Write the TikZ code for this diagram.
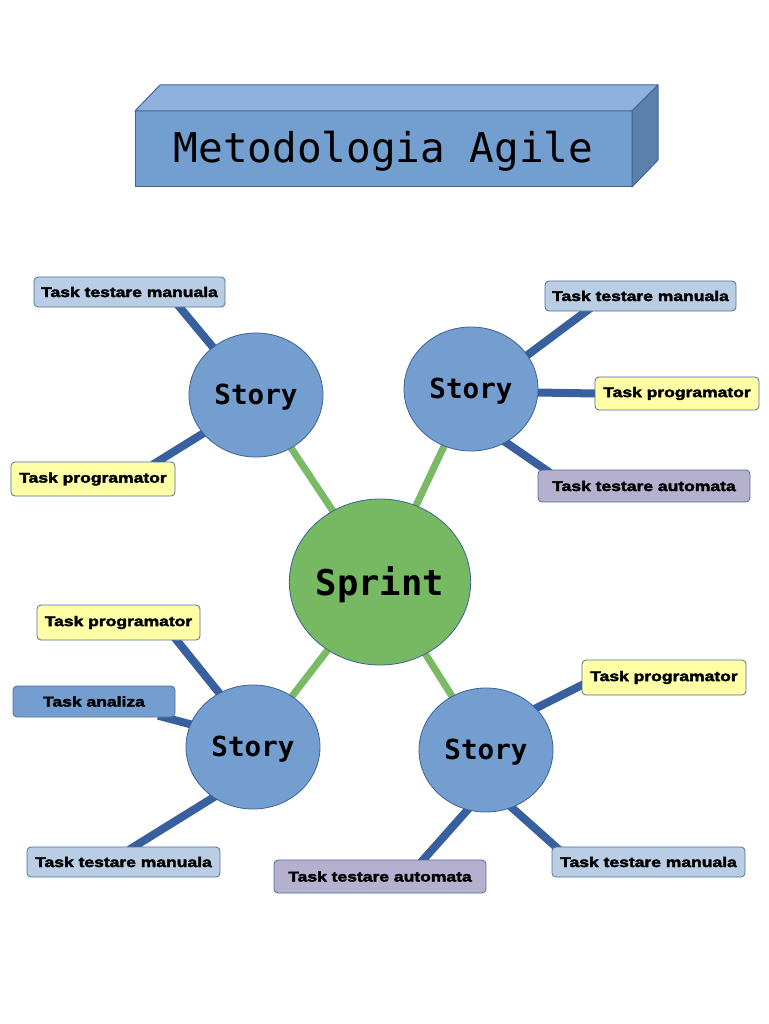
\documentclass[tikz,border=0pt]{standalone}
\usepackage{fontspec}
\setmonofont{DejaVu Sans Mono}
\newfontfamily\taskfont[FakeStretch=1.25,FakeBold=2.6]{Liberation Sans Bold}
\usetikzlibrary{shapes.geometric,backgrounds,calc}
\definecolor{storyblue}{RGB}{115,158,207}
\definecolor{borderblue}{RGB}{62,98,150}
\definecolor{sprintgreen}{RGB}{119,185,99}
\definecolor{linkgreen}{RGB}{122,186,100}
\definecolor{linkblue}{RGB}{56,96,158}
\definecolor{boxlight}{RGB}{185,205,229}
\definecolor{boxyellow}{RGB}{255,255,166}
\definecolor{boxlav}{RGB}{180,176,206}
\definecolor{boxborder}{RGB}{80,110,160}
\definecolor{titlefront}{RGB}{114,159,207}
\definecolor{titletop}{RGB}{142,178,221}
\definecolor{titleside}{RGB}{91,128,172}
\definecolor{titleborder}{RGB}{65,100,155}
\newcommand{\lowertext}[1]{\raisebox{-2.5pt}[\height][\depth]{#1}}
\begin{document}
\begin{tikzpicture}[x=1pt,y=-1pt,
  story/.style={ellipse, draw=borderblue, line width=0.8pt, fill=storyblue,
    minimum width=134pt, minimum height=124pt, inner sep=0pt, outer sep=0pt,
    font=\ttfamily\bfseries\fontsize{27.6}{28}\selectfont},
  sprint/.style={ellipse, draw=borderblue, line width=0.8pt, fill=sprintgreen,
    minimum width=177pt, minimum height=166pt, inner sep=0pt, outer sep=0pt,
    font=\ttfamily\bfseries\fontsize{35.5}{36}\selectfont},
  taskbox/.style n args={3}{rectangle, rounded corners=4pt, draw=boxborder,
    line width=0.8pt, fill=#3, minimum width=#1pt, minimum height=#2pt,
    inner sep=0pt, outer sep=0pt, font=\taskfont\fontsize{14}{14}\selectfont},
  blueline/.style={draw=linkblue, line width=8pt, shorten >=-5pt, shorten <=-5pt},
  greenline/.style={draw=linkgreen, line width=7pt},
  titlebox/.style={rectangle, fill=titlefront, draw=titleborder, line width=1pt,
    minimum width=497pt, minimum height=76pt, inner sep=0pt, outer sep=0pt,
    font=\ttfamily\fontsize{41}{41}\selectfont}
]
\begin{pgfonlayer}{background}
\path[use as bounding box, fill=white] (0,0) rectangle (768,1024);
\end{pgfonlayer}

% title
\node[titlebox] (title) at (383.5,149) {\lowertext{Metodologia Agile}};
\filldraw[fill=titletop, draw=titleborder, line width=1pt, line join=round]
  (title.north west) -- ++(25,-26) -- ++(498,0) -- (title.north east) -- cycle;
\filldraw[fill=titleside, draw=titleborder, line width=1pt, line join=round]
  (title.north east) -- ++(26,-26) -- ++(0,75) -- (title.south east) -- cycle;

% central and stories
\node[sprint] (sprint) at (380,582) {\lowertext{Sprint}};
\node[story] (sTL) at (256,395) {\lowertext{Story}};
\node[story] (sTR) at (471,389) {\lowertext{Story}};
\node[story] (sBL) at (253,747) {\lowertext{Story}};
\node[story] (sBR) at (486,750) {\lowertext{Story}};

% tasks
\node[taskbox={191}{30}{boxlight}] (tl1) at (129.5,292) {Task testare manuala};
\node[taskbox={164}{34}{boxyellow}] (tl2) at (93,479) {Task programator};
\node[taskbox={191}{30}{boxlight}] (tr1) at (640.5,296) {Task testare manuala};
\node[taskbox={164}{33}{boxyellow}] (tr2) at (677,393.5) {Task programator};
\node[taskbox={212}{32}{boxlav}] (tr3) at (644,486) {Task testare automata};
\node[taskbox={163}{35}{boxyellow}] (bl1) at (118.5,622.5) {Task programator};
\node[taskbox={162}{31}{storyblue}] (bl2) at (94,701.5) {Task analiza};
\node[taskbox={193}{30}{boxlight}] (bl3) at (123.5,862) {Task testare manuala};
\node[taskbox={164}{35}{boxyellow}] (br1) at (664,677.5) {Task programator};
\node[taskbox={193}{30}{boxlight}] (br2) at (648.5,862) {Task testare manuala};
\node[taskbox={212}{33}{boxlav}] (br3) at (380,876.5) {Task testare automata};

\begin{pgfonlayer}{background}
\draw[greenline] (sprint.center) -- (sTL.center);
\draw[greenline] (sprint.center) -- (sTR.center);
\draw[greenline] (sprint.center) -- (sBL.center);
\draw[greenline] (sprint.center) -- (sBR.center);

\draw[blueline] ([xshift=50pt]tl1.south) -- (sTL.132);
\draw[blueline] ([xshift=64pt]tl2.north) -- (sTL.216);
\draw[blueline] ([xshift=-54pt]tr1.south) -- (sTR.31);
\draw[blueline] (tr2.west) -- (sTR.-3);
\draw[blueline] ([xshift=8pt]tr3.north west) -- (sTR.-57);
\draw[blueline] ([xshift=58pt]bl1.south) -- (sBL.122);
\draw[blueline] ([xshift=69pt]bl2.south) -- (sBL.160);
\draw[blueline] ([xshift=10pt]bl3.north) -- (sBL.-128);
\draw[blueline] ([yshift=-7.5pt]br1.west) -- (sBR.40);
\draw[blueline] ([xshift=4pt]br2.north west) -- (sBR.-66);
\draw[blueline] ([xshift=43pt]br3.north) -- (sBR.-107);
\end{pgfonlayer}
\end{tikzpicture}
\end{document}
